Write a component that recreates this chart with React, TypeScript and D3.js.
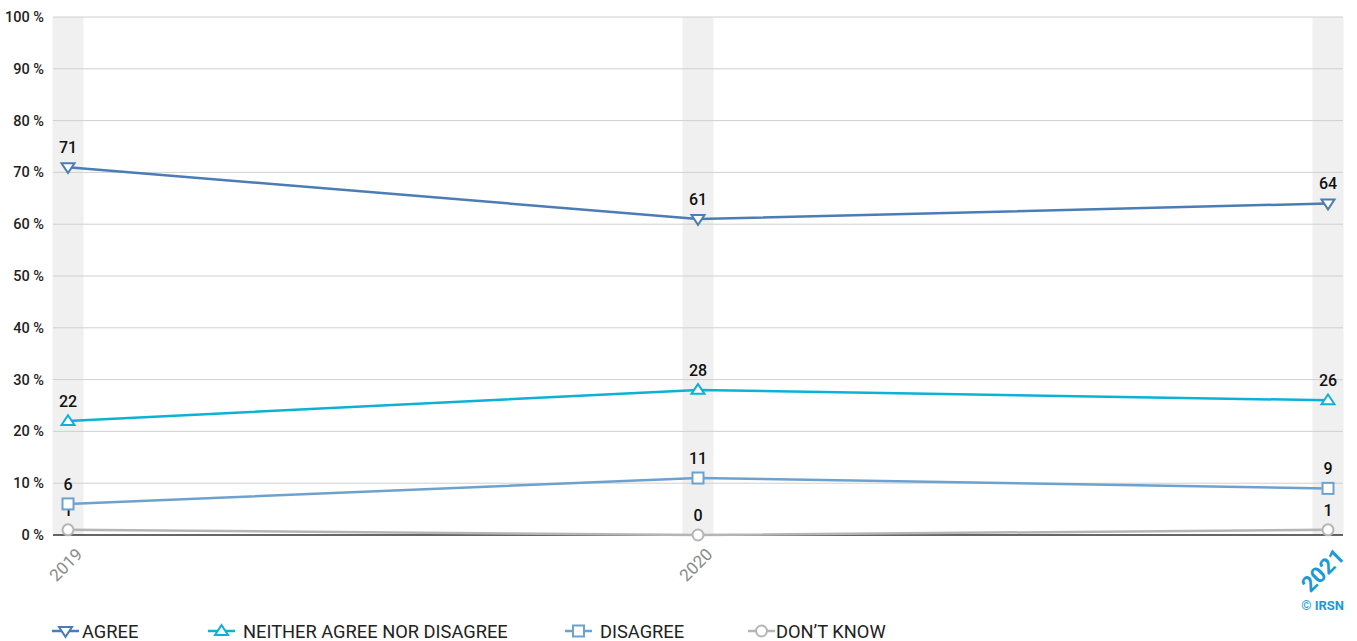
import React from "react";
import * as d3 from "d3";

const years = ["2019", "2020", "2021"];
const agree = [71, 61, 64];
const neither = [22, 28, 26];
const disagree = [6, 11, 9];
const dontKnow = [1, 0, 1];
const yTicks = [0, 10, 20, 30, 40, 50, 60, 70, 80, 90, 100];
const seriesNames = ["AGREE", "NEITHER AGREE NOR DISAGREE", "DISAGREE", "DON\u2019T KNOW"];

const W = 1357, H = 641;
const left = 53, right = 1343, top = 17, bottom = 535;

export default function App() {
  const x = d3.scalePoint<string>().domain(years).range([68, 1328]);
  const y = d3.scaleLinear().domain([0, 100]).range([bottom, top]);
  const line = d3.line<number>().x((_, i) => x(years[i])!).y(d => y(d));

  const series = [
    { name: seriesNames[0], vals: agree, color: "#4a7db5", shape: "down" },
    { name: seriesNames[1], vals: neither, color: "#0bb2d6", shape: "up" },
    { name: seriesNames[2], vals: disagree, color: "#6da2cf", shape: "square" },
    { name: seriesNames[3], vals: dontKnow, color: "#b5b5b5", shape: "circle" },
  ];

  const marker = (shape: string, cx: number, cy: number, color: string, key?: any) => {
    const s = 6.5;
    const common = { fill: "#fff", stroke: color, strokeWidth: 2, key };
    if (shape === "down")
      return <path {...common} d={`M${cx - s},${cy - s * 0.6}L${cx + s},${cy - s * 0.6}L${cx},${cy + s * 0.9}Z`} />;
    if (shape === "up")
      return <path {...common} d={`M${cx - s},${cy + s * 0.6}L${cx + s},${cy + s * 0.6}L${cx},${cy - s * 0.9}Z`} />;
    if (shape === "square")
      return <rect {...common} x={cx - 5.5} y={cy - 5.5} width={11} height={11} />;
    return <circle {...common} cx={cx} cy={cy} r={5.5} />;
  };

  const legendX = [52, 208, 565, 748];
  const legendTextX = [82, 243, 600, 776];

  return (
    <svg width={W} height={H} style={{ position: "absolute", left: 0, top: 0, fontFamily: "Roboto" }}>
      {years.map(yr => (
        <rect key={yr} x={x(yr)! - 15.5} y={top} width={31} height={bottom - top} fill="#f0f0f0" />
      ))}
      {yTicks.map(t => (
        <g key={t}>
          {t > 0 && <line x1={left} x2={right} y1={y(t)} y2={y(t)} stroke="#d0d0d0" strokeWidth={1} />}
          <text x={44} y={y(t) + 5} textAnchor="end" fontSize={14.5} fontWeight={500} fill="#222">{t} %</text>
        </g>
      ))}
      <line x1={left} x2={right} y1={bottom} y2={bottom} stroke="#333" strokeWidth={1.5} />
      {series.slice().reverse().map(s => (
        <g key={s.name}>
          <path d={line(s.vals)!} fill="none" stroke={s.color} strokeWidth={2.5} />
          {s.vals.map((v, i) => marker(s.shape, x(years[i])!, y(v), s.color, i))}
          {s.vals.map((v, i) => (
            <text key={"t" + i} x={x(years[i])!} y={y(v) - 14} textAnchor="middle" fontSize={16} fontWeight={500} fill="#111">{v}</text>
          ))}
        </g>
      ))}
      {years.map((yr, i) => {
        const last = i === years.length - 1;
        return (
          <text key={yr} transform={`translate(${x(yr)! + 7},${bottom + 12}) rotate(-45)`} textAnchor="end"
            fontSize={last ? 22 : 17} fontWeight={last ? 700 : 400} fill={last ? "#1a9ad6" : "#8a8a8a"} dy="0.7em">{yr}</text>
        );
      })}
      <text x={1344} y={610} textAnchor="end" fontSize={13} fontWeight={700} fill="#1a9ad6">© IRSN</text>
      {series.map((s, i) => (
        <g key={s.name}>
          <line x1={legendX[i]} x2={legendX[i] + 27} y1={631} y2={631} stroke={s.color} strokeWidth={2.5} />
          {marker(s.shape, legendX[i] + 13.5, 631, s.color)}
          <text x={legendTextX[i]} y={638} fontSize={18.3} fill="#222">{s.name}</text>
        </g>
      ))}
    </svg>
  );
}
